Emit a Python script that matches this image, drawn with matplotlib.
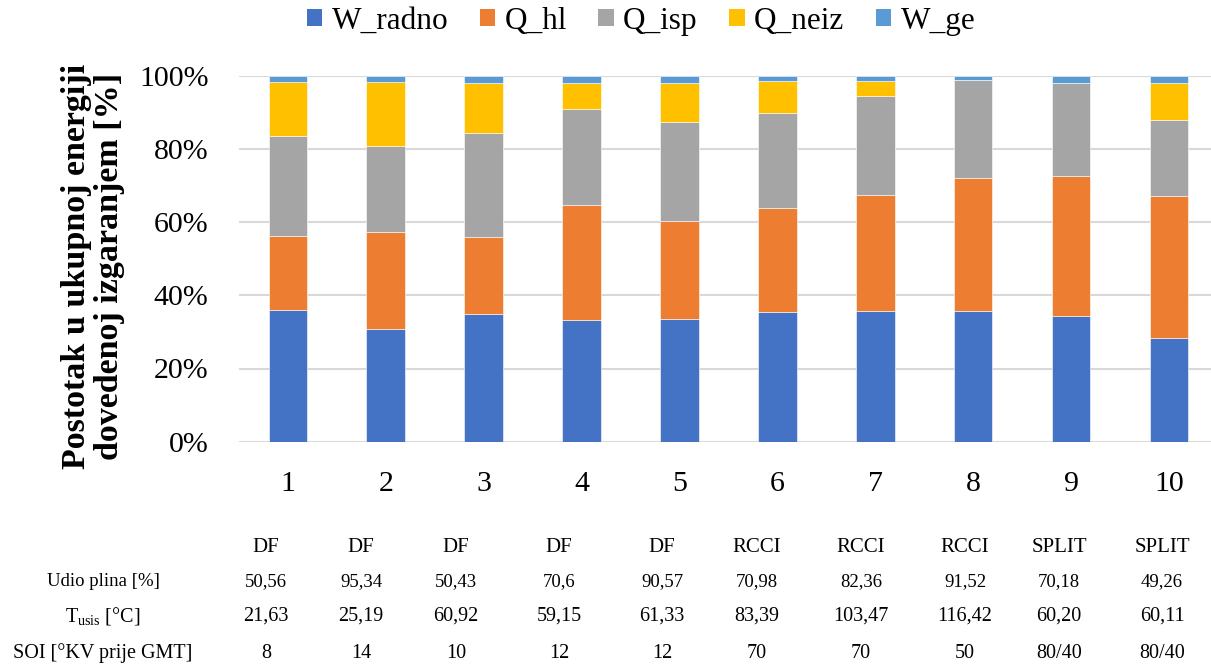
import numpy as np
import matplotlib
matplotlib.use("Agg")
import matplotlib.pyplot as plt
from matplotlib.patches import Patch
from matplotlib.ticker import PercentFormatter

plt.rcParams['font.family'] = ['Liberation Serif', 'DejaVu Serif']
plt.rcParams['mathtext.fontset'] = 'custom'
plt.rcParams['mathtext.rm'] = 'Liberation Serif'
plt.rcParams['mathtext.it'] = 'Liberation Serif:italic'

# podaci (ocitano s grafa, % dovedene energije)
kategorije = ['1', '2', '3', '4', '5', '6', '7', '8', '9', '10']
W_radno = [35.9, 30.7, 34.9, 33.3, 33.6, 35.5, 35.8, 35.8, 34.3, 28.4]
Q_hl = [20.2, 26.7, 21.1, 31.5, 26.8, 28.4, 31.5, 36.2, 38.4, 38.8]
Q_isp = [27.4, 23.3, 28.4, 26.2, 26.9, 26.0, 27.2, 26.7, 25.4, 20.7]
Q_neiz = [14.7, 17.6, 13.6, 7.0, 10.7, 8.7, 4.1, 0.0, 0.0, 10.2]
W_ge = [1.8, 1.7, 2.0, 2.0, 2.0, 1.4, 1.4, 1.3, 1.9, 1.9]

serije = ['W_radno', 'Q_hl', 'Q_isp', 'Q_neiz', 'W_ge']
boje = ['#4472C4', '#ED7D31', '#A5A5A5', '#FFC000', '#5B9BD5']

# tablica ispod grafa
nacin = ['DF', 'DF', 'DF', 'DF', 'DF', 'RCCI', 'RCCI', 'RCCI', 'SPLIT', 'SPLIT']
udio_plina = ['50,56', '95,34', '50,43', '70,6', '90,57', '70,98', '82,36', '91,52', '70,18', '49,26']
T_usis = ['21,63', '25,19', '60,92', '59,15', '61,33', '83,39', '103,47', '116,42', '60,20', '60,11']
SOI = ['8', '14', '10', '12', '12', '70', '70', '50', '80/40', '80/40']

W, H = 1211, 666
fig = plt.figure(figsize=(W / 100, H / 100), dpi=100)
ax = fig.add_axes([239 / W, 1 - 441.7 / H, (W - 239) / W, 366 / H])

podaci = np.array([W_radno, Q_hl, Q_isp, Q_neiz, W_ge])
udjeli = podaci / podaci.sum(axis=0)
x = np.arange(len(kategorije))
dno = np.zeros(len(kategorije))
for i in range(len(serije)):
    ax.bar(x, udjeli[i], 0.395, bottom=dno, color=boje[i],
           edgecolor='white', linewidth=0.4, zorder=3)
    dno += udjeli[i]

ax.set_xlim(-0.5, 9.43)
ax.set_ylim(0, 1)
ax.set_yticks(np.arange(0, 1.01, 0.2))
ax.yaxis.set_major_formatter(PercentFormatter(1.0, decimals=0))
ax.set_xticks(x)
ax.set_xticklabels(kategorije)
ax.tick_params(axis='y', length=0, pad=22, labelsize=21.5)
ax.tick_params(axis='x', length=0, pad=21, labelsize=21.5)
ax.grid(axis='y', color='#d9d9d9', linewidth=1.5, zorder=0)
for s in ax.spines.values():
    s.set_visible(False)

fig.text(93 / W, 1 - 266 / H, 'Postotak u ukupnoj energiji\ndovedenoj izgaranjem [%]',
         rotation=90, ha='center', va='center', fontsize=24.5, fontweight='bold',
         linespacing=1.05, multialignment='center')

rucke = [Patch(facecolor=boje[i], label=serije[i]) for i in range(len(serije))]
fig.legend(handles=rucke, loc='center', bbox_to_anchor=(641 / W, 1 - 21 / H), ncol=5,
           frameon=False, fontsize=22.5, handlelength=0.5, handleheight=0.5,
           handletextpad=0.3, columnspacing=1.0, borderpad=0)

# tablica
stupci = [266, 361, 456, 559, 662, 757, 861, 965, 1059, 1162]
redovi = [
    ('', nacin, 547, 15),
    ('Udio plina [%]', udio_plina, 582, 13.5),
    (r'T$_{\mathrm{usis}}$ [°C]', T_usis, 616, 14.5),
    ('SOI [°KV prije GMT]', SOI, 653, 14.5),
]
for naziv, vrijednosti, yy, fs in redovi:
    if naziv:
        fig.text(103 / W, 1 - yy / H, naziv, ha='center', va='center', fontsize=fs)
    for xx, v in zip(stupci, vrijednosti):
        fig.text(xx / W, 1 - yy / H, v, ha='center', va='center', fontsize=fs)

fig.savefig('out.png', dpi=100)
